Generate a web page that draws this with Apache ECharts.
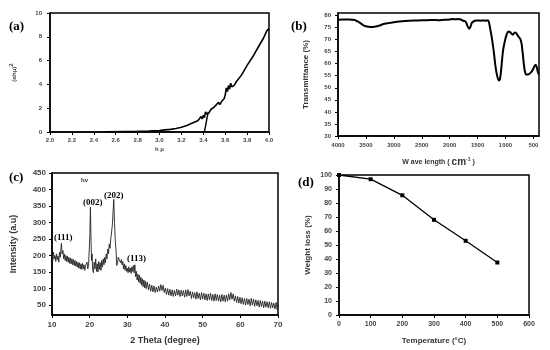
<!DOCTYPE html>
<html><head><meta charset="utf-8">
<script src="https://cdn.jsdelivr.net/npm/echarts@6/dist/echarts.min.js"></script>
<style>html,body{margin:0;padding:0;background:#fff}#c{width:550px;height:350px}</style>
</head><body><div id="c"></div>
<script>
// (a) Tauc plot
const tauc = [[2.5,0.02],[2.7,0.04],[2.8,0.05],[2.9,0.08],[3.0,0.12],[3.05,0.18],[3.1,0.22],[3.15,0.3],[3.2,0.4],[3.25,0.55],[3.3,0.75],[3.35,0.95],[3.36,1.0],[3.38,1.3],[3.39,1.1],[3.40,1.4],[3.41,1.2],[3.42,1.7],[3.43,1.5],[3.45,1.6],[3.47,1.9],[3.5,2.1],[3.52,2.3],[3.54,2.5],[3.55,2.3],[3.57,2.6],[3.59,2.8],[3.6,3.1],[3.61,3.7],[3.62,3.4],[3.63,3.9],[3.64,3.6],[3.65,4.1],[3.66,3.8],[3.68,3.9],[3.7,4.2],[3.75,4.8],[3.8,5.6],[3.85,6.3],[3.9,7.1],[3.95,7.9],[3.98,8.5],[4.0,8.7]];
const taucTangent = [[3.41,0],[3.445,1.7]];
// (b) FTIR
const ftir = [[4000,78.2],[3900,78.3],[3800,78.3],[3700,78.1],[3650,77.5],[3600,76.8],[3550,76.0],[3500,75.5],[3450,75.3],[3400,75.2],[3350,75.3],[3300,75.5],[3250,75.8],[3200,76.3],[3100,76.8],[3000,77.2],[2900,77.5],[2800,77.7],[2700,77.8],[2600,77.9],[2500,78.0],[2400,78.0],[2300,78.1],[2200,78.0],[2100,78.2],[2000,78.3],[1950,78.5],[1900,78.4],[1850,78.5],[1800,78.3],[1760,77.8],[1720,77.6],[1700,76.8],[1680,75.5],[1650,74.5],[1630,75.2],[1600,77.0],[1550,77.8],[1500,77.9],[1450,77.8],[1400,77.9],[1350,77.8],[1320,78.0],[1300,77.5],[1270,74.0],[1240,70.0],[1210,65.0],[1180,59.0],[1150,55.0],[1120,53.0],[1100,53.5],[1080,57.0],[1060,62.0],[1040,66.0],[1010,69.5],[980,72.0],[950,73.3],[920,73.2],[900,72.6],[870,72.0],[850,72.6],[820,72.9],[790,72.0],[760,71.0],[730,70.0],[710,68.0],[690,64.0],[670,59.5],[650,56.5],[630,55.5],[600,55.5],[570,55.8],[540,56.5],[510,57.5],[480,59.0],[460,59.5],[440,58.5],[420,56.5],[405,55.5]];
const ftirXTicks = [4000,3500,3000,2500,2000,1500,1000,500];
const ftirYTicks = [30,35,40,45,50,55,60,65,70,75,80];
// (c) XRD
const xrd = [[10.0,205],[10.2,185],[10.4,210],[10.6,190],[10.8,200],[11.0,182],[11.2,205],[11.4,188],[11.6,198],[11.8,180],[12.0,210],[12.2,195],[12.4,225],[12.5,237],[12.7,205],[12.9,215],[13.1,190],[13.3,205],[13.5,185],[13.7,200],[13.9,182],[14.1,198],[14.3,180],[14.5,195],[14.7,176],[14.9,192],[15.1,175],[15.3,190],[15.5,172],[15.7,188],[15.9,170],[16.1,185],[16.3,168],[16.5,182],[16.7,165],[16.9,180],[17.1,162],[17.3,178],[17.5,160],[17.7,175],[17.9,158],[18.1,176],[18.3,160],[18.5,172],[18.7,155],[18.9,170],[19.1,165],[19.3,180],[19.5,160],[19.7,170],[19.9,175],[20.05,260],[20.2,347],[20.35,250],[20.5,185],[20.65,205],[20.8,155],[21.0,148],[21.2,180],[21.4,160],[21.6,190],[21.8,152],[22.0,175],[22.2,150],[22.4,182],[22.6,158],[22.8,178],[23.0,155],[23.2,185],[23.4,165],[23.6,190],[23.8,172],[24.0,195],[24.2,178],[24.4,205],[24.6,190],[24.8,220],[25.0,205],[25.2,235],[25.4,222],[25.6,250],[25.8,245],[26.0,290],[26.2,330],[26.4,370],[26.6,300],[26.8,245],[27.0,215],[27.2,170],[27.4,178],[27.6,195],[27.8,196],[28.0,190],[28.2,178],[28.4,188],[28.6,172],[28.8,182],[29.0,160],[29.2,175],[29.4,155],[29.6,170],[29.8,152],[30.0,162],[30.2,148],[30.4,166],[30.6,150],[30.8,162],[31.0,146],[31.2,166],[31.4,152],[31.6,170],[31.8,148],[32.0,172],[32.2,136],[32.4,152],[32.6,126],[32.8,144],[33.0,120],[33.2,140],[33.4,116],[33.6,134],[33.8,110],[34.0,130],[34.2,106],[34.4,126],[34.6,102],[34.8,122],[35.0,100],[35.3,120],[35.6,96],[35.9,114],[36.2,92],[36.5,110],[36.8,90],[37.1,108],[37.4,88],[37.7,104],[38.0,90],[38.3,108],[38.6,92],[38.9,112],[39.2,94],[39.5,110],[39.8,88],[40.1,102],[40.4,82],[40.7,100],[41.0,80],[41.3,98],[41.6,78],[41.9,96],[42.2,76],[42.5,94],[42.8,78],[43.1,98],[43.4,80],[43.7,96],[44.0,76],[44.3,95],[44.6,78],[44.9,94],[45.2,74],[45.5,96],[45.8,76],[46.1,97],[46.4,78],[46.7,92],[47.0,70],[47.3,90],[47.6,72],[47.9,88],[48.2,68],[48.5,90],[48.8,70],[49.1,86],[49.4,66],[49.7,88],[50.0,68],[50.3,86],[50.6,66],[50.9,84],[51.2,64],[51.5,84],[51.8,66],[52.1,86],[52.4,64],[52.7,82],[53.0,62],[53.3,84],[53.6,64],[53.9,82],[54.2,62],[54.5,80],[54.8,60],[55.1,82],[55.4,62],[55.7,80],[56.0,60],[56.3,80],[56.6,62],[56.9,84],[57.2,66],[57.5,88],[57.8,68],[58.1,84],[58.4,62],[58.7,78],[59.0,58],[59.3,76],[59.6,56],[59.9,74],[60.2,54],[60.5,72],[60.8,52],[61.1,70],[61.4,50],[61.7,70],[62.0,52],[62.3,68],[62.6,48],[62.9,70],[63.2,50],[63.5,68],[63.8,46],[64.1,66],[64.4,48],[64.7,64],[65.0,44],[65.3,64],[65.6,46],[65.9,62],[66.2,42],[66.5,62],[66.8,44],[67.1,60],[67.4,42],[67.7,60],[68.0,40],[68.3,58],[68.6,42],[68.9,56],[69.2,38],[69.5,58],[69.8,36],[70.0,50]];
const xrdYTicks = [50,100,150,200,250,300,350,400,450];
const xrdPeakLabels = ['(111)','(002)','(202)','(113)'];
// (d) TGA
const tgaTemp = [0,100,200,300,400,500];
const tgaWeight = [100,97,85.5,68,53,37.5];

const lab = {fontFamily:'Liberation Sans',fontWeight:'bold',color:'#444'};
function ax(extra){
  return Object.assign({
    axisLine:{show:true,onZero:false,lineStyle:{color:'#000',width:1.5}},
    axisTick:{show:true,inside:false,length:3,lineStyle:{color:'#000',width:1}},
    splitLine:{show:false},
    nameLocation:'middle',
    nameTextStyle:{fontFamily:'Liberation Sans',fontWeight:'bold',color:'#222',fontSize:8}
  },extra);
}
const gridBase = {show:true,borderColor:'#000',borderWidth:1.5,backgroundColor:'transparent'};

const chart = echarts.init(document.getElementById('c'),null,{renderer:'canvas'});
chart.setOption({
  animation:false,
  grid:[
    Object.assign({left:50,top:13,width:219,height:119},gridBase),
    Object.assign({left:338,top:13,width:201,height:123},gridBase),
    Object.assign({left:52,top:173,width:226,height:142},gridBase),
    Object.assign({left:339,top:175,width:190,height:140},gridBase)
  ],
  xAxis:[
    ax({gridIndex:0,type:'value',min:2.0,max:4.0,interval:0.2,
      axisLabel:Object.assign({fontSize:6,margin:5,formatter:v=>v.toFixed(1)},lab),
      name:'h μ',nameGap:14,nameTextStyle:{fontFamily:'Liberation Sans',fontWeight:'bold',color:'#444',fontSize:6}}),
    ax({gridIndex:1,type:'value',min:400,max:4000,inverse:true,
      axisLabel:Object.assign({fontSize:6,margin:6,customValues:ftirXTicks,formatter:v=>String(v)},lab),
      axisTick:{show:true,length:3,customValues:ftirXTicks,lineStyle:{color:'#000'}},
      name:'{n|W ave length ( }{b|cm}{s|-1}{n| )}',nameGap:21,
      nameTextStyle:{rich:{n:{fontFamily:'Liberation Sans',fontWeight:'bold',fontSize:7,color:'#333'},b:{fontFamily:'Liberation Sans',fontWeight:'bold',fontSize:10,color:'#333'},s:{fontFamily:'Liberation Sans',fontWeight:'bold',fontSize:5,color:'#333',verticalAlign:'top',padding:[0,0,6,0]}}}}),
    ax({gridIndex:2,type:'value',min:10,max:70,interval:10,
      axisLabel:Object.assign({fontSize:8,margin:6},lab),
      name:'2 Theta (degree)',nameGap:21,nameTextStyle:{fontFamily:'Liberation Sans',fontWeight:'bold',color:'#333',fontSize:9}}),
    ax({gridIndex:3,type:'value',min:0,max:600,interval:100,
      axisLabel:Object.assign({fontSize:7,margin:6},lab),
      name:'Temperature (°C)',nameGap:22,nameTextStyle:{fontFamily:'Liberation Sans',fontWeight:'bold',color:'#333',fontSize:8}})
  ],
  yAxis:[
    ax({gridIndex:0,type:'value',min:0,max:10,interval:2,
      axisLabel:Object.assign({fontSize:6,margin:8},lab),
      name:'{n|(αhμ)}{s|2}',nameGap:30,
      nameTextStyle:{rich:{n:{fontFamily:'Liberation Sans',fontWeight:'bold',fontSize:6,color:'#444'},s:{fontFamily:'Liberation Sans',fontWeight:'bold',fontSize:6,color:'#444',verticalAlign:'top',padding:[0,0,6,0]}}}}),
    ax({gridIndex:1,type:'value',min:30,max:81,
      axisLabel:Object.assign({fontSize:6,margin:7,customValues:ftirYTicks},lab),
      axisTick:{show:true,length:3,customValues:ftirYTicks,lineStyle:{color:'#000'}},
      name:'Transmittance (%)',nameGap:28,nameTextStyle:{fontFamily:'Liberation Sans',fontWeight:'bold',color:'#333',fontSize:8}}),
    ax({gridIndex:2,type:'value',min:20,max:450,
      axisLabel:Object.assign({fontSize:8,margin:6,customValues:xrdYTicks},lab),
      axisTick:{show:true,length:3,customValues:xrdYTicks,lineStyle:{color:'#000'}},
      name:'Intensity (a.u)',nameGap:34,nameTextStyle:{fontFamily:'Liberation Sans',fontWeight:'bold',color:'#333',fontSize:9}}),
    ax({gridIndex:3,type:'value',min:0,max:100,interval:10,
      axisLabel:Object.assign({fontSize:7,margin:7},lab),
      name:'Weight loss (%)',nameGap:27,nameTextStyle:{fontFamily:'Liberation Sans',fontWeight:'bold',color:'#333',fontSize:8}})
  ],
  series:[
    {type:'line',xAxisIndex:0,yAxisIndex:0,data:tauc,showSymbol:false,lineStyle:{color:'#000',width:1.6}},
    {type:'line',xAxisIndex:0,yAxisIndex:0,data:taucTangent,showSymbol:false,lineStyle:{color:'#000',width:1.4}},
    {type:'line',xAxisIndex:1,yAxisIndex:1,data:ftir,showSymbol:false,smooth:0.3,lineStyle:{color:'#000',width:2}},
    {type:'line',xAxisIndex:2,yAxisIndex:2,data:xrd,showSymbol:false,lineStyle:{color:'#222',width:0.9}},
    {type:'line',xAxisIndex:3,yAxisIndex:3,data:tgaTemp.map((t,i)=>[t,tgaWeight[i]]),symbol:'rect',symbolSize:4,
      itemStyle:{color:'#000'},lineStyle:{color:'#000',width:1.3}}
  ],
  graphic:[
    {type:'text',left:9,top:20,z:100,style:{text:'(a)',font:'bold 13px "Liberation Serif"',fill:'#000'}},
    {type:'text',left:291,top:20,z:100,style:{text:'(b)',font:'bold 13px "Liberation Serif"',fill:'#000'}},
    {type:'text',left:9,top:171,z:100,style:{text:'(c)',font:'bold 13px "Liberation Serif"',fill:'#000'}},
    {type:'text',left:298,top:176,z:100,style:{text:'(d)',font:'bold 13px "Liberation Serif"',fill:'#000'}},
    {type:'text',left:81,top:177,z:100,style:{text:'hv',font:'bold 6px "Liberation Sans"',fill:'#333'}},
    {type:'text',left:54,top:233,z:100,style:{text:xrdPeakLabels[0],font:'bold 9px "Liberation Serif"',fill:'#000'}},
    {type:'text',left:83,top:198,z:100,style:{text:xrdPeakLabels[1],font:'bold 9px "Liberation Serif"',fill:'#000'}},
    {type:'text',left:104,top:191,z:100,style:{text:xrdPeakLabels[2],font:'bold 9px "Liberation Serif"',fill:'#000'}},
    {type:'text',left:127,top:254,z:100,style:{text:xrdPeakLabels[3],font:'bold 9px "Liberation Serif"',fill:'#000'}}
  ]
});
</script></body></html>
